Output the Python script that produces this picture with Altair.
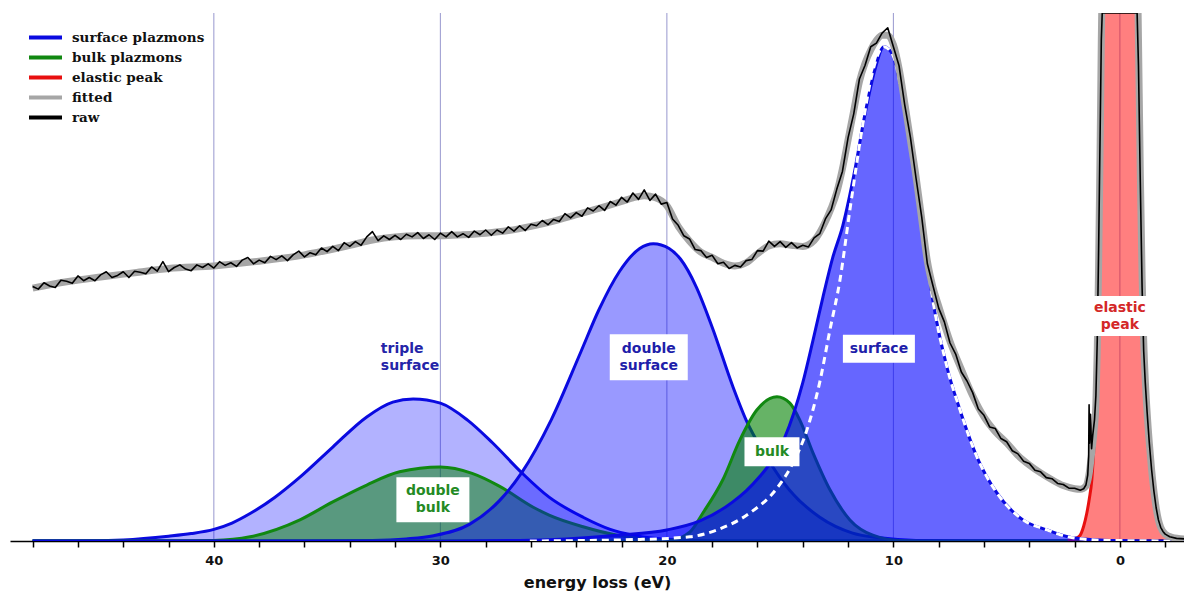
import altair as alt
import pandas as pd

# ---------------- data (energy loss in eV, intensity in % of plot height) ----------------
triple_e = [48, 46, 44, 42, 41, 40, 39.2, 38.4, 37.3, 36.2, 34.75, 33.25, 32.1, 31.2, 30.0, 28.8, 27.7, 26.4, 25.2, 23.7, 22.5, 21.5, 19.4, 17, 14, 10, 5, 0, -2.83]
triple_y = [0, 0, 0.2, 0.9, 1.4, 2.2, 3.4, 5.2, 8.3, 12.1, 17.8, 23.5, 26.3, 26.9, 26.1, 22.9, 18.6, 12.9, 8.3, 4.5, 2.2, 1.1, 0.2, 0, 0, 0, 0, 0, 0]

double_e = [48, 36, 33, 31.5, 30.3, 28.7, 27.4, 26.4, 25.1, 23.8, 23.0, 22.1, 21.2, 20.6, 19.9, 19.4, 18.7, 18.0, 17.1, 16.5, 15.6, 14.6, 13.25, 11.8, 10.6, 9, 6, 0, -2.83]
double_y = [0, 0, 0.1, 0.4, 1.0, 3.2, 7.6, 13.0, 23.0, 35.8, 43.8, 51.0, 55.4, 56.3, 55.4, 53.4, 48.1, 40.5, 29.4, 22.9, 15.9, 9.7, 4.5, 1.5, 0.6, 0.1, 0, 0, 0]

dbulk_e = [48, 42, 40.0, 38.4, 36.2, 34.75, 33.25, 31.8, 30.0, 28.6, 27.4, 25.9, 25.2, 23.7, 22.2, 20.3, 18, 10, 0, -2.83]
dbulk_y = [0, 0, 0.1, 0.8, 4.0, 7.4, 10.6, 13.1, 14.0, 12.8, 10.4, 6.4, 4.9, 2.7, 1.1, 0.2, 0, 0, 0, 0]

bulk_e = [48, 22, 19.87, 18.98, 18.41, 17.53, 16.78, 16.03, 15.14, 14.57, 14.13, 13.55, 12.80, 11.92, 10.91, 9.71, 8, 0, -2.83]
bulk_y = [0, 0, 0.1, 1.7, 5.3, 11.6, 19.1, 24.8, 27.3, 26.1, 22.9, 16.7, 9.7, 4.0, 1.1, 0.1, 0, 0, 0]

surf_e = [48, 30, 26.5, 22.2, 20.0, 18.54, 17.09, 16.5, 15.9, 15.3, 14.8, 14.4, 14.0, 13.55, 13.11, 12.67, 12.23, 11.7, 11.26, 10.82, 10.42, 10.02, 9.71, 9.27, 8.92, 8.26, 7.64, 7.06, 6.31, 5.43, 4.28, 3.22, 2.08, 0.44, -2.83]
surf_y = [0, 0, 0.1, 1.1, 2.1, 3.8, 7.4, 9.5, 12.2, 15.6, 19.6, 24.2, 30.0, 38.0, 46.2, 53.8, 59.8, 70.3, 80.7, 89.2, 93.6, 92.0, 86.7, 77.3, 67.0, 45.6, 33.0, 24.8, 15.9, 9.1, 4.0, 2.1, 0.6, 0.1, 0]

white_e = [26.05, 21.19, 18.98, 17.79, 16.34, 15.14, 14.48, 13.82, 13.25, 12.80, 12.36, 11.92, 11.39, 10.95, 10.42, 10.02, 9.71, 9.27, 8.92, 8.26, 7.64, 7.06, 6.31, 5.43, 4.28, 3.22, 2.08, 0.44, -2.83]
white_y = [0, 0.3, 0.8, 2.1, 5.3, 10.0, 14.4, 21.0, 30.1, 40.0, 49.4, 62.7, 77.8, 88.3, 93.6, 92.0, 86.7, 77.3, 67.0, 45.6, 33.0, 24.8, 15.9, 9.1, 4.0, 2.1, 0.6, 0.1, 0]

elastic_e = [2.3, 2.0, 1.77, 1.6, 1.46, 1.35, 1.24, 1.17, 1.10, 1.02, 0.95, 0.88, 0.82, 0.75, 0.5, 0.25, 0, -0.25, -0.5, -0.75, -0.82, -0.88, -0.95, -1.02, -1.10, -1.2, -1.3, -1.45, -1.63, -1.8, -1.95, -2.2, -2.5, -2.83]
elastic_y = [0.1, 0.4, 1.0, 2.8, 5.3, 8.0, 11.6, 16.0, 21.0, 30.5, 48.0, 70.0, 95.0, 120, 170, 195, 200, 195, 170, 120, 95, 70, 50, 38, 30.5, 23, 17.8, 11, 5.3, 2.4, 1.4, 0.6, 0.3, 0.2]

fitted_e = [48, 46.5, 45, 43.5, 42, 40, 38, 36, 34, 33, 32, 31, 30, 29, 28, 27, 26, 25, 24, 23, 22, 21.5, 21, 20.5, 20, 19.5, 19, 18.5, 18, 17.5, 17, 16.5, 16, 15.5, 15, 14.5, 14, 13.5, 13, 12.75, 12.5, 12.25, 12, 11.75, 11.5, 11.25, 11, 10.75, 10.5, 10.25, 10, 9.75, 9.5, 9.25, 9, 8.75, 8.5, 8.25, 8, 7.5, 7, 6.5, 6, 5.5, 5, 4.5, 4, 3.5, 3, 2.5, 2, 1.75, 1.5, 1.35, 1.25, 1.15, 1.06, 1.0, 0.94, 0.88, 0.82, 0.7, 0.4, 0, -0.4, -0.7, -0.82, -0.9, -0.98, -1.05, -1.12, -1.2, -1.3, -1.4, -1.5, -1.6, -1.7, -1.8, -2.0, -2.3, -2.83]
fitted_y = [47.9, 49.1, 50.0, 50.8, 51.6, 52.1, 53.0, 54.2, 56.0, 57.0, 57.6, 57.8, 57.8, 58.0, 58.3, 58.8, 59.6, 60.6, 61.8, 63.0, 64.3, 65.0, 65.4, 65.0, 63.5, 59.6, 56.8, 54.7, 53.7, 52.6, 52.1, 52.7, 54.4, 55.9, 56.3, 56.0, 55.8, 56.9, 60.5, 63.0, 66.0, 70.5, 76.0, 81.5, 87.0, 90.5, 93.0, 94.8, 95.8, 95.8, 94.0, 89.5, 83.0, 76.0, 69.0, 61.0, 53.0, 48.0, 44.5, 37.8, 32.5, 27.5, 23.5, 20.7, 18.6, 16.2, 14.4, 12.9, 11.6, 10.5, 9.9, 9.8, 10.4, 13.0, 16.5, 20.5, 26.0, 36.0, 52.0, 72.0, 95.0, 130, 180, 200, 180, 130, 95, 70, 50, 38, 30.5, 24.5, 18.5, 13.5, 9.5, 6.3, 4.0, 2.6, 1.3, 0.7, 0.4]

# raw spectrum sampled every 0.25 eV from 48 eV down to 1.75 eV
raw_y = [48.2, 47.7, 48.9, 48.3, 48.0, 49.4, 49.2, 48.8, 50.2, 49.3,
         49.9, 49.3, 50.4, 51.0, 49.9, 50.3, 51.0, 49.9, 51.1, 50.9,
         50.6, 51.9, 51.1, 52.9, 51.0, 51.8, 52.3, 51.5, 51.2, 52.3,
         51.8, 52.5, 51.7, 52.9, 52.2, 52.7, 52.0, 53.2, 53.7, 52.5,
         53.2, 52.7, 53.9, 53.3, 54.0, 53.1, 54.2, 54.9, 53.8, 54.6,
         54.2, 55.5, 54.8, 55.8, 55.0, 56.5, 55.8, 56.7, 56.0, 57.6,
         58.6, 56.9, 57.8, 57.1, 57.9, 57.1, 58.1, 57.6, 58.4, 57.3,
         58.0, 57.1, 58.3, 57.6, 58.6, 57.6, 58.2, 57.5, 58.7, 58.0,
         58.9, 57.9, 58.9, 58.3, 59.5, 58.7, 59.7, 58.8, 60.0, 59.7,
         60.7, 59.9, 60.9, 60.5, 62.0, 61.2, 62.2, 61.5, 63.1, 62.5,
         63.5, 62.6, 64.3, 63.6, 65.1, 64.2, 65.9, 64.7, 66.5, 64.5,
         65.7, 63.8, 64.1, 61.0, 59.8, 57.8, 57.2, 55.2, 55.0, 53.7,
         54.1, 52.5, 52.8, 51.6, 52.2, 51.9, 53.1, 53.3, 55.0, 54.9,
         56.8, 55.8, 56.7, 55.6, 56.5, 55.5, 56.0, 55.7, 57.4, 58.2,
         61.0, 62.7, 66.6, 70.0, 76.4, 80.9, 87.5, 90.1, 93.6, 94.3,
         96.2, 97.2, 93.6, 90.0, 82.6, 76.5, 68.7, 61.4, 52.5, 48.3,
         44.1, 41.5, 37.5, 35.4, 32.0, 30.3, 28.1, 25.0, 23.8, 21.6,
         21.3, 19.4, 18.8, 17.1, 16.5, 15.1, 14.7, 13.4, 13.1, 12.0,
         11.8, 10.9, 10.7, 10.0, 10.0, 9.6]
raw_e = [round(48 - 0.25 * i, 2) for i in range(len(raw_y))]
# raw spectrum through the elastic peak (saturated at the top)
raw2_e = [1.6, 1.5, 1.42, 1.38, 1.36, 1.34, 1.3, 1.25, 1.2, 1.12, 1.06, 1.0, 0.94, 0.88, 0.82, 0.78, 0.5, 0.0, -0.5, -0.76, -0.82, -0.9, -0.98, -1.05, -1.12, -1.2, -1.3, -1.4, -1.5, -1.6, -1.7, -1.8, -1.9, -2.0, -2.2, -2.5, -2.83]
raw2_y = [9.9, 10.6, 12.5, 16.0, 25.8, 18.5, 24.0, 17.5, 20.0, 23.0, 27.5, 38.0, 55.0, 75.0, 95.0, 100, 100, 100, 100, 100, 90, 68, 48, 36, 30, 24.5, 18.5, 13.5, 9.5, 6.3, 4.0, 2.6, 1.8, 1.3, 0.8, 0.5, 0.4]

grid_e = [40, 30, 20, 10, 0]
tick_values = [48, 46, 44, 42, 40, 38, 36, 34, 32, 30, 28, 26, 24, 22, 20, 18, 16, 14, 12, 10, 8, 6, 4, 2, 0, -2]

series_names = ["surface plazmons", "bulk plazmons", "elastic peak", "fitted", "raw"]
series_colors = ["#0a0ae0", "#118811", "#e81010", "#a6a6a6", "#000000"]
series_widths = {"surface plazmons": 3, "bulk plazmons": 3, "elastic peak": 3, "fitted": 7, "raw": 1.6}

# annotation labels: text, energy, intensity, colour, align, box width, box height
annotations = [
    ("triple\nsurface", 32.63, 34.8, "#2424a8", "left", 0, 0),
    ("double\nsurface", 20.8, 34.8, "#1e1eaa", "center", 78, 46),
    ("surface", 10.64, 36.4, "#1e1eaa", "center", 72, 28),
    ("bulk", 15.36, 16.9, "#248a24", "center", 55, 29),
    ("double\nbulk", 30.33, 7.8, "#248a24", "center", 73, 45),
    ("elastic\npeak", 0.0, 42.6, "#d42828", "center", 62, 40),
]

# ---------------- chart ----------------
FONT = "DejaVu Sans"
LINE_H = 17
X = alt.X("e:Q",
          scale=alt.Scale(domain=[-2.83, 49.0], reverse=True, nice=False, zero=False),
          axis=alt.Axis(values=tick_values, labelExpr="datum.value % 10 == 0 ? datum.label : ''",
                        grid=False, domainColor="#000000", domainWidth=1.5, tickColor="#000000",
                        tickWidth=1.5, tickSize=6, labelFont=FONT, labelFontWeight="bold",
                        labelFontSize=13, labelColor="#111111", labelPadding=7, labelOverlap=False,
                        title="energy loss (eV)", titleFont=FONT, titleFontWeight="bold",
                        titleFontSize=16, titleColor="#111111", titlePadding=7))
Y = alt.Y("y:Q", scale=alt.Scale(domain=[0, 100], nice=False, zero=True), axis=None)

legend = alt.Legend(title=None, orient="none", legendX=17, legendY=17,
                    symbolType="M-1,0H5", symbolSize=121, symbolStrokeWidth=4, labelOffset=30,
                    rowPadding=5, clipHeight=15, labelFont="DejaVu Serif", labelFontSize=13.5,
                    labelFontWeight="bold", labelColor="#111111")
COLOR = alt.Color("series:N", scale=alt.Scale(domain=series_names, range=series_colors), legend=legend)


def df(e, y):
    return pd.DataFrame({"e": e, "y": y})


def area(e, y, color, op):
    return alt.Chart(df(e, y)).mark_area(color=color, fillOpacity=op, interpolate="monotone", clip=True).encode(x=X, y=Y)


def line(e, y, series, interp="monotone"):
    return alt.Chart(df(e, y)).transform_calculate(series=f"'{series}'").mark_line(
        interpolate=interp, clip=True, strokeJoin="round", strokeWidth=series_widths[series]
    ).encode(x=X, y=Y, color=COLOR)


grid = alt.Chart(pd.DataFrame({"e": grid_e})).mark_rule(color="#8c8cc8", strokeWidth=0.9).encode(x=X)

layers = [
    grid,
    area(triple_e, triple_y, "#0000ff", 0.3), line(triple_e, triple_y, "surface plazmons"),
    area(dbulk_e, dbulk_y, "#008000", 0.5), line(dbulk_e, dbulk_y, "bulk plazmons"),
    area(double_e, double_y, "#0000ff", 0.4), line(double_e, double_y, "surface plazmons"),
    area(bulk_e, bulk_y, "#008000", 0.6), line(bulk_e, bulk_y, "bulk plazmons"),
    area(elastic_e, elastic_y, "#ff0000", 0.5), line(elastic_e, elastic_y, "elastic peak"),
    area(surf_e, surf_y, "#0000ff", 0.6), line(surf_e, surf_y, "surface plazmons"),
    alt.Chart(df(white_e, white_y)).mark_line(color="white", strokeWidth=3, strokeDash=[7, 5],
                                              interpolate="monotone", clip=True).encode(x=X, y=Y),
    line(fitted_e, fitted_y, "fitted"),
    line(raw_e + raw2_e, raw_y + raw2_y, "raw", interp="linear"),
]

for text, e, y, col, align, w, h in annotations:
    n_lines = text.count("\n") + 1
    # first line sits above the centre of the label block
    dy = (n_lines - 1) * LINE_H / 2
    adf = pd.DataFrame({"e": [e], "y": [y], "t": [text]})
    if w > 0:
        layers.append(alt.Chart(adf).mark_rect(width=w, height=h, color="white").encode(x=X, y=Y))
    layers.append(alt.Chart(adf).mark_text(lineBreak="\n", font=FONT, fontSize=14, fontWeight="bold",
                                           color=col, align=align, baseline="middle", lineHeight=LINE_H,
                                           dy=-dy)
                  .encode(x=X, y=Y, text="t:N"))

chart = alt.layer(*layers).properties(
    width=1174, height=528,
    padding={"left": 10, "top": 13, "right": 0, "bottom": 53},
    autosize=alt.AutoSizeParams(type="none"),
).configure(
    background="white",
    style={"cell": {"stroke": "white", "strokeOpacity": 0, "strokeWidth": 0}},
).configure_view(stroke=None, strokeWidth=0)

chart.save("out.html", embed_options={"renderer": "svg", "actions": False})
